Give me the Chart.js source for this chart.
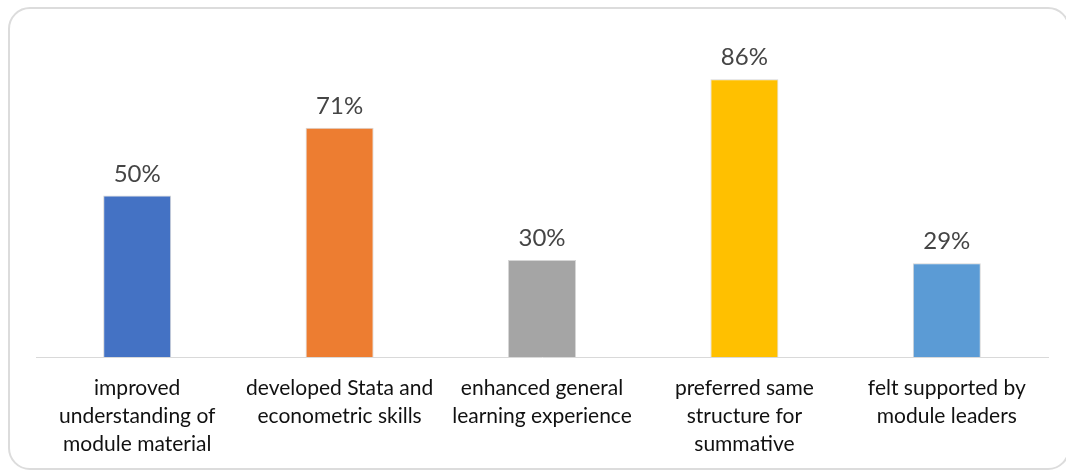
<!DOCTYPE html>
<html>
<head>
<meta charset="utf-8">
<script src="https://cdn.jsdelivr.net/npm/chart.js@4.4.0/dist/chart.umd.min.js"></script>
<style>
    html, body { margin: 0; padding: 0; background: #fff; overflow: hidden; }
    #wrap { position: relative; width: 1066px; height: 471px; }
    #frame {
        position: absolute; left: 8px; top: 7px; width: 1062px; height: 463px;
        box-sizing: border-box; border: 2px solid #dcdcdc; border-radius: 22px;
    }
    #myChart { position: absolute; left: 0; top: 0; }
</style>
</head>
<body>
<div id="wrap">
    <div id="frame"></div>
    <canvas id="myChart" width="1066" height="471"></canvas>
</div>
<script>
let categories = [
    ["improved", "understanding of", "module material"],
    ["developed Stata and", "econometric skills"],
    ["enhanced general", "learning experience"],
    ["preferred same", "structure for", "summative"],
    ["felt supported by", "module leaders"]
];
let values = [0.50, 0.71, 0.30, 0.86, 0.29];
let valueLabels = ["50%", "71%", "30%", "86%", "29%"];
let barColors = ["#4472C4", "#ED7D31", "#A5A5A5", "#FFC000", "#5B9BD5"];

// etichette sopra le barre
let barLabels = {
    id: "barLabels",
    afterDatasetsDraw(chart) {
        let ctx = chart.ctx;
        let meta = chart.getDatasetMeta(0);
        ctx.save();
        ctx.font = "24px Lato";
        ctx.fillStyle = "#454545";
        ctx.textAlign = "center";
        ctx.textBaseline = "alphabetic";
        meta.data.forEach((bar, i) => {
            ctx.fillText(valueLabels[i], bar.x, bar.y - 14);
        });
        ctx.restore();
    }
};

let ctx = document.getElementById("myChart").getContext("2d");
let myChart = new Chart(ctx, {
    type: "bar",
    data: {
        labels: categories,
        datasets: [{
            data: values,
            backgroundColor: barColors,
            borderColor: "#d6d6d6",
            borderWidth: 1,
            categoryPercentage: 1,
            barPercentage: 0.336
        }]
    },
    options: {
        responsive: false,
        animation: false,
        layout: {
            padding: { left: 36, right: 18, top: 34, bottom: 0 }
        },
        scales: {
            x: {
                grid: { display: false, drawTicks: false },
                border: { display: true, color: "#d9d9d9", width: 1 },
                ticks: {
                    color: "#111",
                    font: { family: "Lato", size: 21, lineHeight: 1.34 },
                    padding: 17,
                    maxRotation: 0,
                    autoSkip: false
                },
                afterFit: function (scale) {
                    scale.height = 114;
                }
            },
            y: {
                display: false,
                min: 0,
                max: 1
            }
        },
        plugins: {
            legend: { display: false },
            tooltip: { enabled: false }
        }
    },
    plugins: [barLabels]
});
</script>
</body>
</html>
